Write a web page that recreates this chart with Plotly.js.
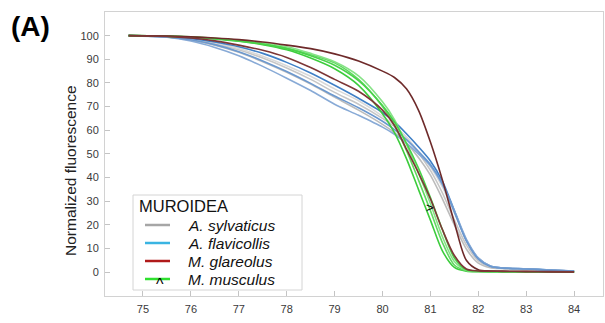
<!DOCTYPE html>
<html>
<head>
<meta charset="utf-8">
<script src="https://cdn.plot.ly/plotly-3.0.1.min.js"></script>
<style>html,body{margin:0;padding:0;background:#fff;}#chart{width:605px;height:323px;}</style>
</head>
<body>
<div id="chart"></div>
<script>
// ---- data ----
const temps = [74.7, 75.5, 76, 76.5, 77, 77.5, 78, 78.5, 79, 79.5, 80, 80.25, 80.5, 80.75, 81, 81.25, 81.5, 81.75, 82, 82.25, 82.5, 83, 83.5, 84];

// A. sylvaticus (grey)
const sylv1 = [100, 99.5, 98.4, 96.6, 94, 90.5, 86.3, 81.5, 76, 71, 65, 61.5, 57, 50.5, 43, 33.5, 22, 11.5, 4.8, 2.2, 1.6, 1.2, 0.8, 0.4];
const sylv2 = [100, 99.4, 98.1, 96, 93, 89, 84.5, 79.5, 74, 68.5, 62.5, 59, 54.5, 48.5, 41, 31, 20, 9.8, 3.8, 1.9, 1.5, 1.1, 0.7, 0.3];
const sylv3 = [100, 99.6, 98.6, 97, 94.6, 91.3, 87.3, 82.8, 77.5, 72.5, 66, 62, 57, 51, 44.5, 36, 25, 13.5, 5.5, 2.4, 1.7, 1.3, 0.8, 0.4];

// A. flavicollis (blue)
const flav1 = [100, 99.6, 98.8, 97.3, 95.3, 92.5, 88.7, 84.2, 79, 73.5, 67.5, 63.5, 58.5, 53, 47, 38.5, 26, 13.5, 5.8, 2.6, 1.8, 1.4, 0.9, 0.4];
const flav2 = [100, 99.3, 97.7, 95, 91.5, 87, 82, 76.8, 71, 66.3, 61.3, 58.3, 54.5, 50, 45, 37, 26, 14, 6, 2.6, 1.8, 1.4, 0.9, 0.4];
const flav3 = [100, 99.5, 98.3, 96.2, 93.2, 89.3, 84.8, 79.8, 74.5, 69.5, 63.8, 60.3, 56, 51, 45.5, 37.5, 25.5, 13.2, 5.5, 2.4, 1.7, 1.3, 0.8, 0.4];

// M. glareolus (dark red / brown)
const glar1 = [100, 99.8, 99.5, 99, 98.3, 97.3, 96, 94.5, 92.3, 89.3, 85, 82.3, 77.5, 68.5, 55, 39, 21, 5, 1, 0.5, 0.4, 0.3, 0.2, 0.1];
const glar2 = [100, 99.7, 99, 97.8, 96, 93.8, 90.8, 86.5, 81.5, 76.5, 68.5, 62, 52, 42, 31, 18, 7, 1.3, 0.5, 0.4, 0.3, 0.2, 0.1, 0.1];

// M. musculus (green)
const musc1 = [100, 99.8, 99.3, 98.6, 97.6, 96.2, 94, 90.5, 86, 79, 67, 59, 48, 35, 22, 9, 2, 0.4, 0.2, 0.1, 0.1, 0.1, 0.1, 0];
const musc2 = [100, 99.8, 99.4, 98.8, 97.9, 96.6, 94.8, 92, 88.5, 81.5, 70, 62, 51.5, 39, 26, 12.5, 3, 0.6, 0.3, 0.2, 0.1, 0.1, 0.1, 0];
const musc3 = [100, 99.8, 99.5, 98.9, 98.1, 96.9, 95.3, 92.5, 89, 83, 72, 64.5, 54, 42, 29, 15, 4.5, 0.8, 0.3, 0.2, 0.1, 0.1, 0.1, 0];
const musc4 = [100, 99.8, 99.4, 98.7, 97.8, 96.4, 94.5, 91.5, 87.5, 81, 70.5, 63.5, 54.5, 44, 31.5, 18, 6, 1, 0.4, 0.2, 0.1, 0.1, 0.1, 0];

const xTicks = [75, 76, 77, 78, 79, 80, 81, 82, 83, 84];
const yTicks = [0, 10, 20, 30, 40, 50, 60, 70, 80, 90, 100];

const legendTitle = 'MUROIDEA';
const speciesNames = ['A. sylvaticus', 'A. flavicollis', 'M. glareolus', 'M. musculus'];
const legendColors = ['#a6a6a6', '#3ab4e2', '#b01a1a', '#2fe02f'];
const yTitle = 'Normalized fluorescence';
const panelLabel = '(A)';

// ---- traces ----
const groups = [
  {series: [sylv1, sylv2, sylv3], colors: ['#c6c6c6', '#bcbcbc', '#d9d9d9'], name: speciesNames[0]},
  {series: [flav1, flav2, flav3], colors: ['#3f7fc6', '#88aad6', '#6b98cf'], name: speciesNames[1]},
  {series: [musc1, musc2, musc3, musc4], colors: ['#3ccc3c', '#62d862', '#86e286', '#49d349'], name: speciesNames[3]},
  {series: [glar1, glar2], colors: ['#6e2a2a', '#7d3636'], name: speciesNames[2]}
];
const traces = [];
groups.forEach(g => {
  g.series.forEach((ys, i) => {
    traces.push({
      type: 'scatter', mode: 'lines', x: temps, y: ys, name: g.name,
      line: {color: g.colors[i], width: 1.6, shape: 'spline', smoothing: 0.8},
      showlegend: false, hoverinfo: 'skip'
    });
  });
});

// ---- layout helpers (pixel -> paper) ----
const W = 605, H = 323, M = {l: 105, r: 2, t: 12, b: 27};
const pw = W - M.l - M.r, ph = H - M.t - M.b;
const px = v => (v - M.l) / pw;
const py = v => (H - M.b - v) / ph;

const itemY = [225, 243, 261, 279];
const shapes = [
  {type: 'rect', xref: 'paper', yref: 'paper', x0: px(133), x1: px(302), y0: py(290), y1: py(195),
   line: {color: '#d4d4d4', width: 1}, fillcolor: 'white', layer: 'below'}
];
const annotations = [
  {text: legendTitle, xref: 'paper', yref: 'paper', x: px(138), y: py(206), xanchor: 'left', yanchor: 'middle',
   showarrow: false, borderpad: 0, font: {size: 16.5, color: '#111'}}
];
speciesNames.forEach((n, i) => {
  shapes.push({type: 'line', xref: 'paper', yref: 'paper', x0: px(145), x1: px(170), y0: py(itemY[i]), y1: py(itemY[i]),
    line: {color: legendColors[i], width: 2.5}});
  annotations.push({text: '<i>' + n + '</i>', xref: 'paper', yref: 'paper', x: px(187), y: py(itemY[i]),
    xanchor: 'left', yanchor: 'middle', showarrow: false, borderpad: 0, font: {size: 15.5, color: '#111'}});
});
annotations.push(
  {text: '<b>' + panelLabel + '</b>', xref: 'paper', yref: 'paper', x: px(30), y: py(26), xanchor: 'center', yanchor: 'middle',
   showarrow: false, font: {size: 28, color: '#000'}},
  {text: yTitle, xref: 'paper', yref: 'paper', x: px(70), y: py(171), xanchor: 'center', yanchor: 'middle', textangle: -90,
   showarrow: false, font: {size: 15.5, color: '#222'}},
  {text: '^', xref: 'paper', yref: 'paper', x: px(160), y: py(284), xanchor: 'center', yanchor: 'middle',
   showarrow: false, borderpad: 0, font: {size: 16, color: '#000'}},
  {text: '>', xref: 'paper', yref: 'paper', x: px(430), y: py(207), xanchor: 'center', yanchor: 'middle',
   showarrow: false, font: {size: 13, color: '#000'}}
);

const axisCommon = {
  showgrid: false, zeroline: false, showline: true, linecolor: '#d2d2d2', linewidth: 1, mirror: true,
  ticks: 'inside', ticklen: 5, tickcolor: '#c4c4c4', tickwidth: 1,
  tickfont: {size: 11, color: '#3a3a3a'}
};
const layout = {
  width: W, height: H, margin: M,
  paper_bgcolor: '#fff', plot_bgcolor: '#fff', showlegend: false,
  font: {family: '"Liberation Sans", Arial, sans-serif', color: '#333'},
  xaxis: Object.assign({}, axisCommon, {range: [74.207, 84.603], tickvals: xTicks, ticklabelstandoff: 3}),
  yaxis: Object.assign({}, axisCommon, {range: [-10.1, 110], tickvals: yTicks, ticklabelstandoff: 3}),
  shapes: shapes, annotations: annotations
};
Plotly.newPlot('chart', traces, layout, {staticPlot: true, displayModeBar: false});
</script>
</body>
</html>
